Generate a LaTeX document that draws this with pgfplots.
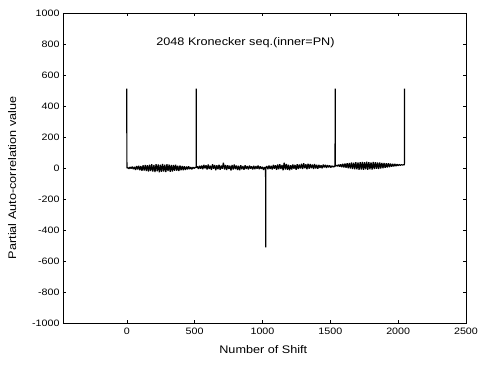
\documentclass[border=0pt]{standalone}
\usepackage{fontspec}
\setmainfont{Liberation Sans}[FakeStretch=1.15]
\usepackage{pgfplots}
\pgfplotsset{compat=1.18}
\begin{document}
\begin{tikzpicture}
\path[use as bounding box] (-63pt,-45pt) rectangle (417pt,323pt);
\begin{axis}[
  at={(0,0)}, anchor=south west,
  scale only axis, width=403pt, height=310pt,
  xmin=-470, xmax=2500, ymin=-1000, ymax=1000,
  xtick={0,500,...,2500}, ytick={-1000,-800,...,1000},
  tick align=inside, major tick length=3pt,
  tick style={black, line width=0.5pt},
  axis line style={line width=0.8pt},
  /pgf/number format/assume math mode=true,
  /pgf/number format/1000 sep={},
  scaled ticks=false,
  tick label style={font=\fontsize{9.3}{11}\selectfont},
  xticklabel style={yshift=-1pt},
  label style={font=\fontsize{11}{13}\selectfont},
  xlabel={Number of Shift},
  ylabel={Partial Auto-correlation value},
  xlabel style={at={(axis description cs:0.497,-0.087)}, anchor=center},
  ylabel style={at={(axis description cs:-0.126,0.468)}, anchor=center},
]
\addplot[black, line width=1.2pt, line join=bevel] coordinates {
(0,512) (1,0)
(8,3) (16,-5) (24,6) (32,-4) (40,9) (48,-8) (56,7) (64,-12) (72,13) (80,-10)
(88,15) (96,-14) (104,12) (112,-18) (120,17) (128,-16) (136,20) (144,-19) (152,18) (160,-23)
(168,21) (176,-20) (184,24) (192,-22) (200,19) (208,-26) (216,25) (224,-21) (232,23) (240,-27)
(248,22) (256,-25) (264,26) (272,-23) (280,21) (288,-26) (296,24) (304,-20) (312,22) (320,-24)
(328,19) (336,-22) (344,20) (352,-18) (360,21) (368,-17) (376,15) (384,-19) (392,16) (400,-14)
(408,13) (416,-15) (424,11) (432,-12) (440,10) (448,-9) (456,11) (464,-7) (472,6) (480,-8)
(488,5) (496,-3) (504,4) (511,2) (512,512) (513,3)
(520,10) (528,-6) (536,14) (544,-4) (552,16) (560,-8) (568,20) (576,-2) (584,18) (592,-10)
(600,22) (608,-6) (616,15) (624,-12) (632,24) (640,-4) (648,19) (656,-14) (664,17) (672,-8)
(680,21) (688,-11) (696,16) (704,-5) (712,34) (720,-9) (728,20) (736,-13) (744,18) (752,-6)
(760,15) (768,-16) (776,19) (784,-10) (792,22) (800,-7) (808,16) (816,-12) (824,14) (832,-15)
(840,18) (848,-8) (856,12) (864,-11) (872,17) (880,-6) (888,13) (896,-9) (904,15) (912,-4)
(920,11) (928,-10) (936,14) (944,-7) (952,12) (960,-5) (968,16) (976,-8) (984,10) (992,-6)
(1000,8) (1008,-12) (1016,6) (1023,-4) (1024,-512) (1025,2)
(1032,12) (1040,-8) (1048,16) (1056,-6) (1064,14) (1072,-10) (1080,20) (1088,-4) (1096,18) (1104,-12)
(1112,22) (1120,-8) (1128,24) (1136,-6) (1144,19) (1152,-14) (1160,34) (1168,-9) (1176,26) (1184,-12)
(1192,21) (1200,-15) (1208,18) (1216,-10) (1224,23) (1232,-5) (1240,20) (1248,-11) (1256,25) (1264,-7)
(1272,22) (1280,-3) (1288,27) (1296,-6) (1304,30) (1312,-2) (1320,24) (1328,-8) (1336,28) (1344,-4)
(1352,26) (1360,-1) (1368,23) (1376,-6) (1384,25) (1392,-3) (1400,21) (1408,-5) (1416,20) (1424,0)
(1432,18) (1440,-2) (1448,22) (1456,4) (1464,20) (1472,1) (1480,18) (1488,5) (1496,16) (1504,3)
(1512,14) (1520,6) (1528,12) (1535,8) (1536,512) (1537,15)
(1544,17) (1552,12) (1560,21) (1568,9) (1576,24) (1584,6) (1592,27) (1600,4) (1608,29) (1616,1)
(1624,31) (1632,-2) (1640,33) (1648,-4) (1656,35) (1664,-6) (1672,34) (1680,-8) (1688,37) (1696,-9)
(1704,36) (1712,-11) (1720,38) (1728,-10) (1736,39) (1744,-12) (1752,37) (1760,-9) (1768,40) (1776,-11)
(1784,38) (1792,-8) (1800,36) (1808,-10) (1816,39) (1824,-7) (1832,37) (1840,-5) (1848,35) (1856,-6)
(1864,36) (1872,-3) (1880,33) (1888,-1) (1896,32) (1904,1) (1912,30) (1920,3) (1928,31) (1936,5)
(1944,28) (1952,8) (1960,27) (1968,10) (1976,26) (1984,12) (1992,24) (2000,15) (2008,23) (2016,17)
(2024,22) (2032,19) (2040,21) (2046,20) (2047,512)
};
\node[font=\fontsize{11}{13}\selectfont] at (axis cs:875,806) {2048 Kronecker seq.(inner=PN)};
\end{axis}
\end{tikzpicture}
\end{document}
